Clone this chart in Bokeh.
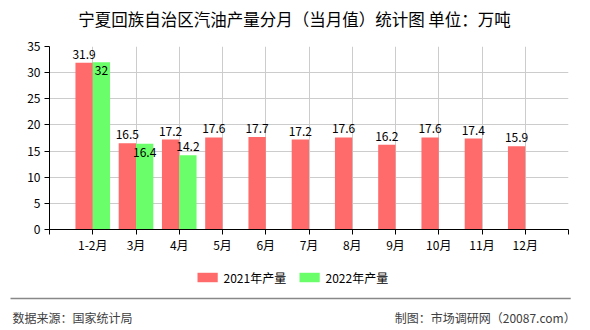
from bokeh.plotting import figure
from bokeh.models import (Range1d, FixedTicker, Label, ColumnDataSource)
from bokeh.core.properties import value
from bokeh.embed import file_html
from bokeh.resources import INLINE

months = ["1-2月", "3月", "4月", "5月", "6月", "7月", "8月", "9月", "10月", "11月", "12月"]
v2021 = [31.9, 16.5, 17.2, 17.6, 17.7, 17.2, 17.6, 16.2, 17.6, 17.4, 15.9]
v2022 = [32, 16.4, 14.2]
y_ticks = [0, 5, 10, 15, 20, 25, 30, 35]
title_text = "宁夏回族自治区汽油产量分月（当月值）统计图 单位：万吨"
source_text = "数据来源：国家统计局"
credit_text = "制图：市场调研网（20087.com）"
series_names = ["2021年产量", "2022年产量"]

RED = "#ff6a6a"
GREEN = "#6aff6a"
FONT = "Noto Sans CJK SC"

p = figure(frame_width=519, frame_height=183, output_backend="svg", toolbar_location=None,
           x_range=Range1d(-1, len(months)), y_range=Range1d(0, 35),
           min_border_left=49, min_border_right=22, min_border_top=46,
           min_border_bottom=101)
p.outline_line_color = None
p.background_fill_color = "white"
p.border_fill_color = "white"

idx = list(range(len(months)))
bw = 0.4
src21 = ColumnDataSource(dict(x=[i - bw / 2 for i in idx], top=v2021,
                              lbl=[f"{v:g}" for v in v2021]))
idx22 = list(range(len(v2022)))
src22 = ColumnDataSource(dict(x=[i + bw / 2 for i in idx22], top=v2022,
                              lbl=[f"{v:g}" for v in v2022]))

p.vbar(x="x", top="top", width=bw, source=src21, fill_color=RED, line_color=None)
p.vbar(x="x", top="top", width=bw, source=src22, fill_color=GREEN, line_color=None)

# value labels
p.text(x="x", y="top", text="lbl", source=src21, text_align="center",
       text_baseline="bottom", y_offset=-4, text_font=value(FONT),
       text_font_size="12px", text_color="black")
inside = [abs(g - v2021[i]) < 1.5 for i, g in enumerate(v2022)]
src22_in = ColumnDataSource(dict(x=[src22.data["x"][i] for i in idx22 if inside[i]],
                                 y=[v2022[i] for i in idx22 if inside[i]],
                                 lbl=[src22.data["lbl"][i] for i in idx22 if inside[i]]))
src22_out = ColumnDataSource(dict(x=[src22.data["x"][i] for i in idx22 if not inside[i]],
                                  y=[v2022[i] for i in idx22 if not inside[i]],
                                  lbl=[src22.data["lbl"][i] for i in idx22 if not inside[i]]))
p.text(x="x", y="y", text="lbl", source=src22_in, text_align="center",
       text_baseline="top", y_offset=4, text_font=value(FONT),
       text_font_size="12px", text_color="black")
p.text(x="x", y="y", text="lbl", source=src22_out, text_align="center",
       text_baseline="bottom", y_offset=-4, text_font=value(FONT),
       text_font_size="12px", text_color="black")

# axes
xt = list(range(-1, len(months) + 1))
p.xaxis.ticker = FixedTicker(ticks=xt)
p.xaxis.major_label_overrides = {i: (months[i] if 0 <= i < len(months) else "") for i in xt}
p.yaxis.ticker = FixedTicker(ticks=y_ticks)
for ax in (p.xaxis, p.yaxis):
    ax.axis_line_color = "black"
    ax.major_tick_line_color = "black"
    ax.major_tick_in = 0
    ax.major_tick_out = 5
    ax.minor_tick_line_color = None
    ax.major_label_text_font = FONT
    ax.major_label_text_font_size = "12px"
    ax.major_label_text_color = "black"
p.xaxis.major_label_standoff = 1
p.yaxis.major_label_standoff = 4
p.xgrid.ticker = FixedTicker(ticks=xt)
p.ygrid.ticker = FixedTicker(ticks=y_ticks)
p.xgrid.grid_line_color = "#cccccc"
p.ygrid.grid_line_color = "#cccccc"


def canvas_label(x, y, text, **kw):
    opts = dict(x=x, y=y, x_units="canvas", y_units="canvas", text=text,
                text_font=FONT, text_baseline="middle")
    opts.update(kw)
    p.add_layout(Label(**opts), "below")


# title
canvas_label(294, 18, title_text, text_align="center", text_font_size="16.5px",
             text_color="black")

# legend (swatch + text per series)
for sx, col, name in [(197, RED, series_names[0]), (299, GREEN, series_names[1])]:
    canvas_label(sx, 277, " ", text_align="left", text_font_size="1px",
                 padding=(10, 4), background_fill_color=col, text_color=col,
                 border_line_color=None)
    canvas_label(sx + 26, 277, name, text_align="left", text_font_size="12px",
                 text_color="black")

# footer
canvas_label(10, 298, " ", text_align="left", text_font_size="1px",
             padding=(280, 0), border_line_color=None,
             background_fill_color="#888888", text_color="#888888")
canvas_label(12, 317, source_text, text_align="left", text_font_size="12px",
             text_color="#404040")
canvas_label(575, 317, credit_text, text_align="right", text_font_size="12px",
             text_color="#404040")

open("out.html", "w").write(file_html(p, INLINE))
